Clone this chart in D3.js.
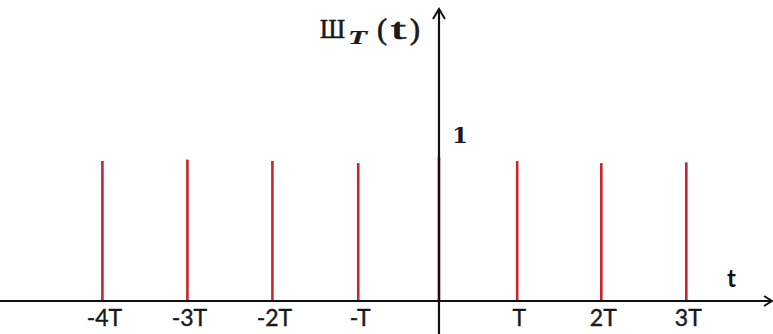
<!DOCTYPE html>
<html>
<head>
<meta charset="utf-8">
<script src="https://cdn.jsdelivr.net/npm/d3@7"></script>
<style>
  html, body { margin: 0; padding: 0; background: #fff; }
  svg { display: block; }
</style>
</head>
<body>
<svg id="chart" width="773" height="334"></svg>
<script>
// Impulse positions (in multiples of T, as drawn) and heights
const impulseT = [-3.96, -2.96, -1.96, -0.95, 0, 0.92, 1.91, 2.91];
const impulseHeights = [1.00, 1.01, 1.00, 0.985, 1.03, 1.00, 0.985, 0.99];
const tickLabels = ["-4T", "-3T", "-2T", "-T", "", "T", "2T", "3T"];
const yTickValues = [1];
const yTickLabels = ["1"];

const W = 773, H = 334;
const svg = d3.select("#chart");

const x = d3.scaleLinear().domain([-5.165, 3.93]).range([0, W]);
const y = d3.scaleLinear().domain([0, 1]).range([301, 161]);

const red = "#c4262b";
const ink = "#1a1a1a";

// impulses
svg.append("g").selectAll("line")
  .data(impulseT)
  .join("line")
  .attr("x1", d => x(d)).attr("x2", d => x(d))
  .attr("y1", y(0))
  .attr("y2", (d, i) => y(impulseHeights[i]))
  .attr("stroke", red)
  .attr("stroke-width", 2.6);

// x axis line with arrow
const x0 = x(0), y0 = y(0);
svg.append("line")
  .attr("x1", 0).attr("x2", W - 1)
  .attr("y1", y0).attr("y2", y0)
  .attr("stroke", "#111").attr("stroke-width", 2.2);
svg.append("path")
  .attr("d", `M${W - 9},${y0 - 5} L${W - 1},${y0} L${W - 9},${y0 + 5}`)
  .attr("fill", "none").attr("stroke", "#111").attr("stroke-width", 2);

// y axis line with arrow
svg.append("line")
  .attr("x1", x0).attr("x2", x0)
  .attr("y1", H).attr("y2", 9)
  .attr("stroke", "#111").attr("stroke-width", 2.2);
svg.append("path")
  .attr("d", `M${x0 - 6},${19} L${x0},${9} L${x0 + 6},${19}`)
  .attr("fill", "none").attr("stroke", "#111").attr("stroke-width", 2);

// x tick labels
svg.append("g").selectAll("text")
  .data(impulseT)
  .join("text")
  .attr("x", d => x(d) + 2)
  .attr("y", 326)
  .attr("text-anchor", "middle")
  .attr("font-family", "Lato, 'Open Sans', sans-serif")
  .attr("font-size", 23)
  .attr("fill", ink)
  .attr("stroke", ink).attr("stroke-width", 0.4)
  .text((d, i) => tickLabels[i]);

// y tick label "1"
svg.append("g").selectAll("text")
  .data(yTickValues)
  .join("text")
  .attr("x", x0 + 13)
  .attr("y", d => y(d) - 18)
  .attr("font-family", "'DejaVu Serif', serif")
  .attr("font-weight", "bold")
  .attr("font-size", 23)
  .attr("fill", ink)
  .text((d, i) => yTickLabels[i]);

// x axis title "t"
svg.append("text")
  .attr("x", 727).attr("y", 287)
  .attr("font-family", "Lato, sans-serif")
  .attr("font-weight", "bold")
  .attr("font-size", 24)
  .attr("fill", "#111")
  .text("t");

// y axis title Ш_T(t)
const title = svg.append("g").attr("fill", ink).attr("stroke", ink).attr("stroke-width", 0.7);
title.append("text")
  .attr("x", 320).attr("y", 38)
  .attr("font-family", "'Liberation Serif', serif")
  .attr("font-size", 28)
  .attr("textLength", 25).attr("lengthAdjust", "spacingAndGlyphs")
  .text("Ш");
title.append("text")
  .attr("x", 348).attr("y", 44)
  .attr("font-family", "'Liberation Serif', serif")
  .attr("font-style", "italic")
  .attr("font-weight", "bold")
  .attr("font-size", 18)
  .attr("stroke-width", 0.2)
  .attr("textLength", 19).attr("lengthAdjust", "spacingAndGlyphs")
  .text("T");
title.append("text")
  .attr("x", 377).attr("y", 39)
  .attr("font-family", "'Liberation Serif', serif")
  .attr("font-size", 29)
  .attr("textLength", 10).attr("lengthAdjust", "spacingAndGlyphs")
  .text("(");
title.append("text")
  .attr("x", 391).attr("y", 39)
  .attr("font-family", "'Liberation Serif', serif")
  .attr("font-size", 29)
  .attr("textLength", 15).attr("lengthAdjust", "spacingAndGlyphs")
  .text("t");
title.append("text")
  .attr("x", 410).attr("y", 39)
  .attr("font-family", "'Liberation Serif', serif")
  .attr("font-size", 29)
  .attr("textLength", 10).attr("lengthAdjust", "spacingAndGlyphs")
  .text(")");
</script>
</body>
</html>
